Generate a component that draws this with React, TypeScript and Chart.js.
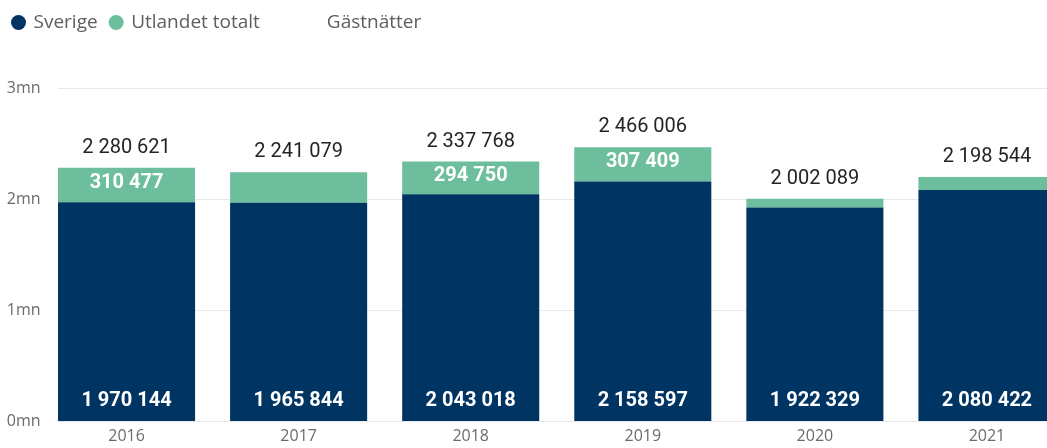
import React, { useEffect, useRef } from 'react';
import { Chart, registerables } from 'chart.js';

Chart.register(...registerables);

const years = ['2016', '2017', '2018', '2019', '2020', '2021'];
const sverige = [1970144, 1965844, 2043018, 2158597, 1922329, 2080422];
const utlandet = [310477, 275235, 294750, 307409, 79760, 118122];
const gastnatter = [2280621, 2241079, 2337768, 2466006, 2002089, 2198544];
const yTicks = [0, 1000000, 2000000, 3000000];

const NAVY = '#003462';
const GREEN = '#6DBE9C';
const AXIS_GREY = '#6B6B6B';
const LEGEND_GREY = '#605E5C';

function fmt(n: number): string {
  return String(n).replace(/\B(?=(\d{3})+(?!\d))/g, ' ');
}

const gridPlugin = {
  id: 'customGrid',
  beforeDatasetsDraw(chart: any) {
    const ctx = chart.ctx;
    const y = chart.scales.y;
    const first = chart.getDatasetMeta(0).data[0];
    const x0 = first.x - first.width / 2;
    ctx.save();
    ctx.strokeStyle = '#E8E8E8';
    ctx.lineWidth = 1;
    yTicks.forEach((v) => {
      const py = Math.round(y.getPixelForValue(v)) + 0.5;
      ctx.beginPath();
      ctx.moveTo(x0, py);
      ctx.lineTo(chart.chartArea.right, py);
      ctx.stroke();
    });
    ctx.restore();
  },
};

const labelPlugin = {
  id: 'valueLabels',
  afterDatasetsDraw(chart: any) {
    const ctx = chart.ctx;
    ctx.save();
    ctx.textAlign = 'center';
    ctx.textBaseline = 'middle';
    ctx.font = 'bold 20px Roboto';
    ctx.fillStyle = '#FFFFFF';
    chart.getDatasetMeta(0).data.forEach((el: any, i: number) => {
      ctx.fillText(fmt(sverige[i]), el.x, el.base - 20);
    });
    chart.getDatasetMeta(1).data.forEach((el: any, i: number) => {
      const h = el.base - el.y;
      if (h >= 32) ctx.fillText(fmt(utlandet[i]), el.x, el.y + h / 2 - 2);
    });
    ctx.font = '20px Roboto';
    ctx.fillStyle = '#252423';
    chart.getDatasetMeta(2).data.forEach((el: any, i: number) => {
      ctx.fillText(fmt(gastnatter[i]), el.x, el.y - 20);
    });
    ctx.restore();
  },
};

const legendSizePlugin = {
  id: 'legendSize',
  beforeInit(chart: any) {
    const lg = chart.legend;
    if (!lg) return;
    const orig = lg.fit;
    lg.fit = function () {
      orig.call(this);
      this.height = 88;
    };
  },
};

export default function App() {
  const ref = useRef<HTMLCanvasElement | null>(null);

  useEffect(() => {
    if (!ref.current) return;
    const clear = 'rgba(0,0,0,0)';
    const chart = new Chart(ref.current, {
      type: 'bar',
      data: {
        labels: years,
        datasets: [
          {
            type: 'bar',
            label: 'Sverige',
            data: sverige,
            backgroundColor: NAVY,
            stack: 'bars',
            categoryPercentage: 1,
            barPercentage: 0.7965,
            order: 2,
          },
          {
            type: 'bar',
            label: 'Utlandet totalt',
            data: utlandet,
            backgroundColor: GREEN,
            stack: 'bars',
            categoryPercentage: 1,
            barPercentage: 0.7965,
            order: 2,
          },
          {
            type: 'line',
            label: 'Gästnätter',
            data: gastnatter,
            borderColor: clear,
            backgroundColor: clear,
            pointRadius: 0,
            stack: 'total',
            order: 0,
          } as any,
        ],
      },
      options: {
        animation: false,
        responsive: false,
        devicePixelRatio: 1,
        layout: { padding: 0 },
        plugins: {
          tooltip: { enabled: false },
          legend: {
            position: 'top',
            align: 'start',
            onClick: () => {},
            labels: {
              usePointStyle: true,
              pointStyle: 'circle',
              boxWidth: 11,
              boxHeight: 10.6,
              padding: 13,
              color: LEGEND_GREY,
              font: { family: 'Open Sans', size: 19 },
              generateLabels: () => [
                { text: 'Sverige', fillStyle: NAVY, strokeStyle: NAVY, lineWidth: 0, pointStyle: 'circle', hidden: false, datasetIndex: 0, fontColor: LEGEND_GREY },
                { text: 'Utlandet totalt', fillStyle: GREEN, strokeStyle: GREEN, lineWidth: 0, pointStyle: 'circle', hidden: false, datasetIndex: 1, fontColor: LEGEND_GREY },
                { text: '', fillStyle: clear, strokeStyle: clear, lineWidth: 0, pointStyle: 'circle', hidden: false, fontColor: LEGEND_GREY },
                { text: 'Gästnätter', fillStyle: clear, strokeStyle: clear, lineWidth: 0, pointStyle: 'circle', hidden: false, datasetIndex: 2, fontColor: LEGEND_GREY },
              ] as any,
            },
          },
        },
        scales: {
          x: {
            afterFit: (s: any) => {
              s.height = 27;
            },
            grid: { display: false, drawTicks: false },
            border: { display: false },
            ticks: {
              padding: 6,
              color: AXIS_GREY,
              font: { family: 'Open Sans', size: 16 },
            },
          },
          y: {
            stacked: true,
            min: 0,
            max: 3000000,
            afterFit: (s: any) => {
              s.width = 40.5;
            },
            grid: { display: false, drawTicks: false },
            border: { display: false },
            ticks: {
              stepSize: 1000000,
              padding: 0,
              color: AXIS_GREY,
              font: { family: 'Open Sans', size: 16 },
              callback: (v: any) => Number(v) / 1000000 + 'mn',
            },
          },
        },
      },
      plugins: [gridPlugin, labelPlugin, legendSizePlugin],
    } as any);
    return () => chart.destroy();
  }, []);

  return (
    <div
      style={{
        position: 'absolute',
        left: 0,
        top: 0,
        width: 1047,
        height: 448,
        overflow: 'hidden',
        background: '#FFFFFF',
      }}
    >
      <canvas ref={ref} width={1073} height={448} style={{ display: 'block' }} />
    </div>
  );
}
